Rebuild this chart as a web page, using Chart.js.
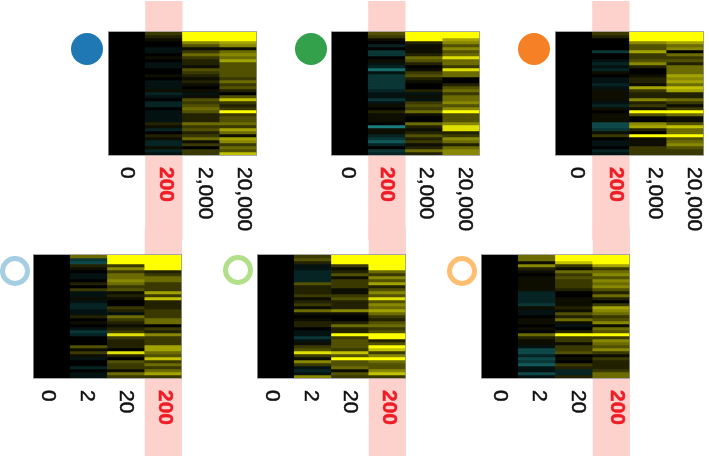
<!DOCTYPE html>
<html>
<head>
<meta charset="utf-8">
<title>Heatmaps</title>
<script src="https://cdn.jsdelivr.net/npm/chart.js@4"></script>
<style>
  html, body { margin: 0; padding: 0; background: #fff; }
  body { position: relative; width: 709px; height: 456px; overflow: hidden; }
  canvas { position: absolute; filter: blur(0.5px); }
  .dot { position: absolute; box-sizing: border-box; border-radius: 50%; }
</style>
</head>
<body>
<script>
// Tick labels for the two rows of panels
const highDoses = ["0", "200", "2,000", "20,000"];
const lowDoses = ["0", "2", "20", "200"];

// Cell levels, top row first: 0 black, 10 full yellow, negative is teal
const noSignal = [0,0,0,0,0,0,0,0,0,0,0,0,0,0,0,0,0,0,0,0,0,0,0,0,0,0,0,0,0,0,0,0,0,0,0,0,0,0,0,0,0];

const blue200 = [3,2,1,0,0,-1,-1,0,1,0,-1,-1,0,0,1,0,-1,-1,-1,1,-2,-1,0,-2,-2,0,-1,-1,-1,-1,2,1,-2,0,2,1,-2,-2,1,-2,-1];
const blue2000 = [10,10,10,6,4,1,3,5,3,2,2,1,4,3,2,1,2,1,0,1,-1,1,4,3,4,5,4,2,2,2,5,3,4,2,3,5,1,3,0,3,3];
const blue20000 = [10,10,10,7,6,1,5,6,5,7,4,4,4,4,4,3,5,3,4,2,0,4,8,3,2,3,10,3,4,4,5,3,7,5,1,7,6,3,5,4,8];

const green200 = [4,3,1,0,-2,0,-3,-3,0,1,-1,-2,-6,-1,-3,-3,-3,-3,-3,-2,-1,-1,-3,-1,1,0,2,1,1,1,0,-7,1,1,-2,-3,-5,-2,0,-3,-2];
const green2000 = [10,10,10,2,1,1,1,2,5,4,2,0,1,3,4,2,1,0,0,2,-1,1,-1,3,4,3,5,1,0,0,5,2,1,2,4,2,3,1,2,5,2];
const green20000 = [10,10,7,6,4,6,4,5,9,5,5,3,9,5,5,0,0,2,4,5,3,5,5,6,4,6,10,4,4,4,6,9,9,2,3,6,5,2,5,6,6];

const orange200 = [3,2,0,0,0,0,-3,0,0,-1,-2,-1,-2,1,0,-1,-1,-2,-1,1,1,1,1,-1,-2,1,0,1,1,1,-4,-4,-3,1,3,0,-1,-1,0,-2,-1];
const orange2000 = [10,10,10,6,4,4,7,3,3,4,6,2,0,0,1,2,2,1,7,3,2,2,6,2,3,1,10,4,0,0,6,7,2,0,10,1,1,1,3,3,3];
const orange20000 = [10,10,10,7,5,6,0,5,3,4,2,5,5,5,7,6,7,5,8,7,2,2,5,3,1,3,10,5,1,1,4,8,5,5,10,4,5,6,4,3,3];

const lightBlue2 = [5,-3,-4,2,1,0,-1,-1,0,2,0,3,-1,-1,1,-1,-2,-2,-1,-1,2,0,1,0,-1,-3,-2,0,0,0,4,1,3,1,-1,0,0,-2,0,-1,-1];
const lightBlue20 = [10,10,10,3,6,3,5,5,6,5,3,4,1,2,1,0,0,3,2,-1,5,3,2,1,2,3,9,3,2,2,2,0,9,2,0,4,3,3,1,5,3];
const lightBlue200 = [10,10,10,10,10,2,3,5,5,3,3,3,7,3,8,2,2,2,3,3,3,5,5,0,3,2,6,3,3,3,7,7,5,4,8,3,5,3,5,7,3];

const lightGreen2 = [3,4,2,-1,-1,-2,-2,-2,-2,4,2,2,2,3,1,2,3,1,5,1,0,1,2,2,0,-1,-1,-3,-1,1,3,4,9,3,1,6,3,-1,-2,-1,6];
const lightGreen20 = [10,10,10,3,1,2,4,1,3,3,3,1,1,3,4,2,2,2,6,1,0,0,2,5,2,2,10,3,4,4,4,3,8,4,10,4,4,5,1,4,3];
const lightGreen200 = [10,10,10,10,10,5,3,6,4,7,2,4,6,4,9,4,6,5,7,5,3,2,4,5,3,4,10,10,2,4,10,8,3,6,10,5,4,4,6,8,3];

const lightOrange2 = [5,5,1,6,2,1,0,1,1,1,1,1,-2,-2,-2,-2,-3,1,-1,-1,0,1,1,0,1,0,5,2,1,1,-1,-4,-4,-2,-4,-3,-5,-1,-1,-4,-1];
const lightOrange20 = [10,10,8,3,1,5,3,4,3,3,3,2,0,0,1,1,1,2,1,4,2,5,1,-1,0,2,10,3,3,1,3,3,4,0,1,0,3,2,-2,-2,2];
const lightOrange200 = [10,10,10,7,3,5,6,4,6,5,6,4,2,5,2,0,3,7,6,5,3,4,6,1,5,4,10,3,6,5,4,6,3,1,3,2,2,2,3,5,5];

// One entry per heatmap: where it sits and what it shows
const panels = [
  { left: 108, top: 0, labels: highDoses, hi: 1, shift: 0.5, columns: [noSignal, blue200, blue2000, blue20000], dot: [87, 49, "#1f78b4", false] },
  { left: 331, top: 0, labels: highDoses, hi: 1, shift: -2, columns: [noSignal, green200, green2000, green20000], dot: [311, 49, "#33a04c", false] },
  { left: 555, top: 0, labels: highDoses, hi: 1, shift: 3, columns: [noSignal, orange200, orange2000, orange20000], dot: [534, 49, "#f58025", false] },
  { left: 33, top: 228, labels: lowDoses, hi: 3, shift: -4, columns: [noSignal, lightBlue2, lightBlue20, lightBlue200], dot: [15, 271, "#a6cee3", true] },
  { left: 257, top: 228, labels: lowDoses, hi: 3, shift: -3.5, columns: [noSignal, lightGreen2, lightGreen20, lightGreen200], dot: [238, 270, "#b2df8a", true] },
  { left: 481, top: 228, labels: lowDoses, hi: 3, shift: 0, columns: [noSignal, lightOrange2, lightOrange20, lightOrange200], dot: [462, 271, "#fdbf6f", true] }
];

// Level to colour, dim levels stay close to black
function levelColor(level) {
  if (level < 0) {
    const t = Math.round(-level * 18);
    return `rgb(${Math.round(t / 5)},${t},${t})`;
  }
  const y = Math.round(255 * Math.pow(level / 10, 1.25));
  return `rgb(${y},${y},0)`;
}

// Pink band behind the highlighted column, outline, and label placement
const panelPlugin = {
  id: "panelExtras",
  beforeDraw(chart, args, opts) {
    const x = chart.scales.x;
    const half = (x.getPixelForValue(1) - x.getPixelForValue(0)) / 2;
    const ctx = chart.ctx;
    ctx.save();
    ctx.fillStyle = "#fdd2cd";
    ctx.fillRect(x.getPixelForValue(opts.hi) - half, opts.bandTop, half * 2, chart.height);
    ctx.restore();

    // Labels read downwards, so they start at the tick, not end there
    x.getLabelItems().forEach((item, i) => {
      item.options.textAlign = "left";
      item.textOffset = 0;
      item.options.translation[0] = x.getPixelForValue(i) + opts.shift + i * 1.7;
    });
  },
  afterDatasetsDraw(chart) {
    const a = chart.chartArea;
    const ctx = chart.ctx;
    ctx.save();
    ctx.strokeStyle = "rgba(150,150,150,0.8)";
    ctx.lineWidth = 1;
    ctx.strokeRect(a.left + 0.5, a.top - 0.5, a.right - a.left - 1, a.bottom - a.top + 1);
    ctx.restore();
  }
};

function drawPanel(panel) {
  const canvas = document.createElement("canvas");
  const isTop = panel.top === 0;
  // Top canvases run past the row split so that "20,000" is not cut off
  const height = isTop ? 240 : 228;
  canvas.width = 149;
  canvas.height = height;
  canvas.style.left = panel.left + "px";
  canvas.style.top = panel.top + "px";
  document.body.appendChild(canvas);

  const plotTop = isTop ? 32 : 27;
  const axisHeight = height - plotTop - 123;

  // Each row of the heatmap is one stacked dataset
  const datasets = noSignal.map((_, row) => ({
    data: panel.columns.map(() => 1),
    backgroundColor: panel.columns.map(col => levelColor(col[row])),
    borderWidth: 0,
    barPercentage: 1,
    categoryPercentage: 1
  }));

  const tickColor = ctx => (ctx.index === panel.hi ? "#ee1c25" : "#111");

  new Chart(canvas.getContext("2d"), {
    type: "bar",
    data: { labels: panel.labels, datasets },
    options: {
      responsive: false,
      animation: false,
      layout: { padding: { top: plotTop, left: 0, right: 0, bottom: 0 } },
      plugins: {
        legend: { display: false },
        tooltip: { enabled: false },
        panelExtras: { hi: panel.hi, shift: panel.shift, bandTop: isTop ? 1 : 0 }
      },
      scales: {
        x: {
          stacked: true,
          grid: { display: false, drawTicks: false },
          border: { display: false },
          afterFit: scale => { scale.height = axisHeight; },
          ticks: {
            autoSkip: false,
            minRotation: -90,
            maxRotation: -90,
            padding: 12,
            color: tickColor,
            textStrokeColor: tickColor,
            textStrokeWidth: 0.5,
            font: ctx => ({
              family: "'Liberation Sans', Arial, sans-serif",
              size: 21,
              weight: ctx.index === panel.hi ? "bold" : "normal"
            })
          }
        },
        y: { stacked: true, display: false, reverse: true, min: 0, max: noSignal.length }
      }
    },
    plugins: [panelPlugin]
  });

  // Circle marker next to the heatmap
  const [cx, cy, color, hollow] = panel.dot;
  const dot = document.createElement("div");
  const size = hollow ? 30 : 32;
  dot.className = "dot";
  dot.style.left = cx - size / 2 + "px";
  dot.style.top = cy - size / 2 + "px";
  dot.style.width = dot.style.height = size + "px";
  if (hollow) dot.style.border = "5px solid " + color;
  else dot.style.background = color;
  document.body.appendChild(dot);
}

document.addEventListener("DOMContentLoaded", () => {
  panels.forEach(drawPanel);
});
</script>
</body>
</html>
